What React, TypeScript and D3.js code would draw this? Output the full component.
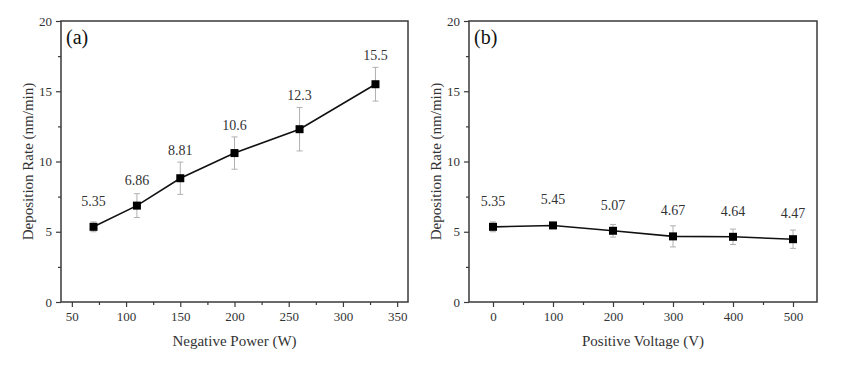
import { useRef, useEffect } from 'react';
import * as d3 from 'd3';

const W = 847;
const H = 366;
const FONT = '"Liberation Serif", "Times New Roman", serif';
const AXIS_COLOR = '#3a3a3a';
const TEXT_COLOR = '#333';
const ERR_COLOR = '#b0b0b0';

// panel (a)
const powerX = [70, 110, 150, 200, 260, 330];
const powerRate = [5.35, 6.86, 8.81, 10.6, 12.3, 15.5];
const powerErr = [0.35, 0.85, 1.15, 1.15, 1.55, 1.2];
const powerLabels = ['5.35', '6.86', '8.81', '10.6', '12.3', '15.5'];
const powerTicks = [50, 100, 150, 200, 250, 300, 350];

// panel (b)
const voltX = [0, 100, 200, 300, 400, 500];
const voltRate = [5.35, 5.45, 5.07, 4.67, 4.64, 4.47];
const voltErr = [0.35, 0.2, 0.45, 0.75, 0.55, 0.65];
const voltLabels = ['5.35', '5.45', '5.07', '4.67', '4.64', '4.47'];
const voltTicks = [0, 100, 200, 300, 400, 500];

const yTicks = [0, 5, 10, 15, 20];

type Panel = {
  left: number;
  right: number;
  domain: [number, number];
  ticks: number[];
  minor: number[];
  xs: number[];
  ys: number[];
  errs: number[];
  labels: string[];
  tag: string;
  xTitle: string;
  yTitleX: number;
};

const TOP = 21;
const BOTTOM = 302;

function drawPanel(svg: d3.Selection<SVGSVGElement, unknown, null, undefined>, p: Panel) {
  const x = d3.scaleLinear().domain(p.domain).range([p.left, p.right]);
  const y = d3.scaleLinear().domain([0, 20]).range([BOTTOM, TOP]);
  const g = svg.append('g');

  // frame
  g.append('rect')
    .attr('x', p.left).attr('y', TOP)
    .attr('width', p.right - p.left).attr('height', BOTTOM - TOP)
    .attr('fill', 'none').attr('stroke', AXIS_COLOR).attr('stroke-width', 1.5);

  const styleAxis = (a: d3.Selection<SVGGElement, unknown, null, undefined>) => {
    a.select('.domain').remove();
    a.selectAll('.tick line').attr('stroke', AXIS_COLOR).attr('stroke-width', 1.2);
    a.selectAll('.tick text')
      .attr('fill', TEXT_COLOR)
      .attr('font-size', 13)
      .attr('font-family', FONT);
  };

  // x axis
  g.append('g')
    .attr('transform', `translate(0,${BOTTOM})`)
    .call(d3.axisBottom(x).tickValues(p.ticks).tickSize(5).tickPadding(5))
    .call(styleAxis);
  g.append('g')
    .attr('transform', `translate(0,${BOTTOM})`)
    .call(d3.axisBottom(x).tickValues(p.minor).tickSize(3).tickFormat(() => ''))
    .call(styleAxis);

  // y axis
  g.append('g')
    .attr('transform', `translate(${p.left},0)`)
    .call(d3.axisLeft(y).tickValues(yTicks).tickSize(5).tickPadding(4))
    .call(styleAxis);
  g.append('g')
    .attr('transform', `translate(${p.left},0)`)
    .call(d3.axisLeft(y).tickValues([2.5, 7.5, 12.5, 17.5]).tickSize(3).tickFormat(() => ''))
    .call(styleAxis);

  const pts = p.xs.map((v, i) => ({ x: v, y: p.ys[i], e: p.errs[i], label: p.labels[i] }));

  // error bars
  const eb = g.append('g').attr('stroke', ERR_COLOR).attr('stroke-width', 1);
  pts.forEach(d => {
    const cx = x(d.x);
    eb.append('line').attr('x1', cx).attr('x2', cx).attr('y1', y(d.y + d.e)).attr('y2', y(d.y - d.e));
    eb.append('line').attr('x1', cx - 3).attr('x2', cx + 3).attr('y1', y(d.y + d.e)).attr('y2', y(d.y + d.e));
    eb.append('line').attr('x1', cx - 3).attr('x2', cx + 3).attr('y1', y(d.y - d.e)).attr('y2', y(d.y - d.e));
  });

  // line
  const line = d3.line<{ x: number; y: number }>().x(d => x(d.x)).y(d => y(d.y));
  g.append('path')
    .datum(pts)
    .attr('d', line)
    .attr('fill', 'none')
    .attr('stroke', '#111')
    .attr('stroke-width', 1.6);

  // markers
  g.selectAll('.mk')
    .data(pts)
    .join('rect')
    .attr('x', d => x(d.x) - 4)
    .attr('y', d => y(d.y) - 4)
    .attr('width', 8)
    .attr('height', 8)
    .attr('fill', '#000');

  // value labels
  g.selectAll('.vl')
    .data(pts)
    .join('text')
    .attr('x', d => x(d.x))
    .attr('y', d => Math.min(y(d.y) - 21, y(d.y + d.e) - 7))
    .attr('text-anchor', 'middle')
    .attr('fill', TEXT_COLOR)
    .attr('font-size', 14)
    .attr('font-family', FONT)
    .text(d => d.label);

  // panel tag
  g.append('text')
    .attr('x', p.left + 5).attr('y', TOP + 23)
    .attr('fill', '#111')
    .attr('font-size', 20)
    .attr('font-family', FONT)
    .text(p.tag);

  // titles
  g.append('text')
    .attr('x', (p.left + p.right) / 2).attr('y', 346)
    .attr('text-anchor', 'middle')
    .attr('fill', TEXT_COLOR)
    .attr('font-size', 15)
    .attr('font-family', FONT)
    .text(p.xTitle);

  g.append('text')
    .attr('transform', `translate(${p.yTitleX},${(TOP + BOTTOM) / 2}) rotate(-90)`)
    .attr('text-anchor', 'middle')
    .attr('fill', TEXT_COLOR)
    .attr('font-size', 15)
    .attr('font-family', FONT)
    .text('Deposition Rate (nm/min)');
}

export default function App() {
  const svgRef = useRef<SVGSVGElement>(null);

  useEffect(() => {
    document.body.style.margin = '0';
    const svg = d3.select(svgRef.current as SVGSVGElement);
    svg.selectAll('*').remove();
    svg.append('rect').attr('width', W).attr('height', H).attr('fill', '#fff');

    drawPanel(svg, {
      left: 61, right: 408, domain: [40, 360],
      ticks: powerTicks, minor: [75, 125, 175, 225, 275, 325],
      xs: powerX, ys: powerRate, errs: powerErr, labels: powerLabels,
      tag: '(a)', xTitle: 'Negative Power (W)', yTitleX: 33,
    });
    drawPanel(svg, {
      left: 469, right: 817, domain: [-40, 540],
      ticks: voltTicks, minor: [50, 150, 250, 350, 450],
      xs: voltX, ys: voltRate, errs: voltErr, labels: voltLabels,
      tag: '(b)', xTitle: 'Positive Voltage (V)', yTitleX: 441,
    });
  }, []);

  return <svg ref={svgRef} width={W} height={H} style={{ display: 'block' }} />;
}
